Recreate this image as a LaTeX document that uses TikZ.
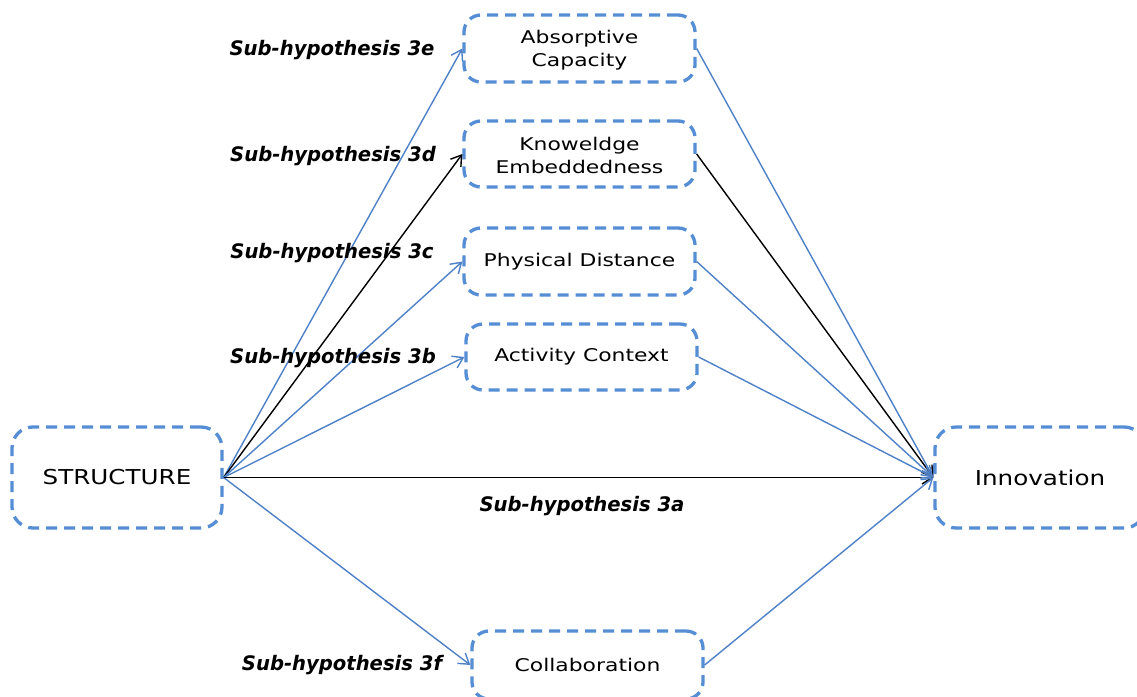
\documentclass[tikz,border=0pt]{standalone}
\usepackage{fontspec}
\setmainfont{DejaVu Sans}[FakeStretch=1.2]
\newfontfamily\hypfont{DejaVu Sans}[FakeStretch=0.98]
\newfontfamily\boxfont{DejaVu Sans}[FakeStretch=1.25]
\usetikzlibrary{arrows.meta}
\definecolor{boxblue}{RGB}{85,142,213}
\definecolor{lineblue}{RGB}{79,129,199}
\tikzset{
  dbox/.style={draw=boxblue, line width=3.3pt, dash pattern=on 11pt off 7pt,
    rounded corners=17pt, align=center, inner sep=0pt, font=\boxfont\fontsize{17.5}{23.5}\selectfont},
  bigbox/.style={dbox, rounded corners=21pt, font=\fontsize{20.5}{25}\selectfont},
  link/.style={draw=lineblue, line width=1.4pt, -{Straight Barb[length=10pt,width=13pt,line width=1.4pt]}},
  blink/.style={link, draw=black},
  hyp/.style={font=\hypfont\fontsize{20}{24}\selectfont\bfseries\itshape, inner sep=0pt}
}
\begin{document}
\begin{tikzpicture}[x=1pt,y=-1pt]
\useasboundingbox (0,0) rectangle (1137,696);
\clip (0,0) rectangle (1137,696);
\fill[white] (0,0) rectangle (1137,696);

% main boxes
\node[bigbox, minimum width=210pt, minimum height=101pt] (S) at (117,477.5) {STRUCTURE};
\node[bigbox, minimum width=210pt, minimum height=101pt] (I) at (1040,477.5) {Innovation};

% mediating boxes
\node[dbox, minimum width=231pt, minimum height=67pt] (A) at (579.5,48.5) {\strut Absorptive\\Capacity};
\node[dbox, minimum width=231pt, minimum height=66pt] (K) at (579.5,154) {\strut Knoweldge\\Embeddedness};
\node[dbox, minimum width=231pt, minimum height=67pt] (P) at (579.5,261.5) {Physical Distance};
\node[dbox, minimum width=231pt, minimum height=66pt] (C) at (581.5,357) {Activity Context};
\node[dbox, minimum width=231pt, minimum height=68pt] (L) at (587.5,665) {Collaboration};

% paths from structure
\draw[link]  (S.east) -- (A.west);
\draw[blink] (S.east) -- (K.west);
\draw[link]  (S.east) -- (P.west);
\draw[link]  (S.east) -- (C.west);
\draw[link]  (S.east) -- (L.west);
\draw[blink] (S.east) -- (I.west);

% paths into innovation
\draw[link]  (A.east) -- (I.west);
\draw[blink] (K.east) -- (I.west);
\draw[link]  (P.east) -- (I.west);
\draw[link]  (C.east) -- (I.west);
\draw[link]  (L.east) -- (I.west);

% hypothesis labels
\node[hyp] (h3e) at (332,50) {Sub-hypothesis 3e};
\node[hyp] (h3d) at (333,156) {Sub-hypothesis 3d};
\node[hyp] (h3c) at (332,253) {Sub-hypothesis 3c};
\node[hyp] (h3b) at (333,358) {Sub-hypothesis 3b};
\node[hyp] (h3a) at (582,506) {Sub-hypothesis 3a};
\node[hyp] (h3f) at (342,665) {Sub-hypothesis 3f};
\end{tikzpicture}
\end{document}
